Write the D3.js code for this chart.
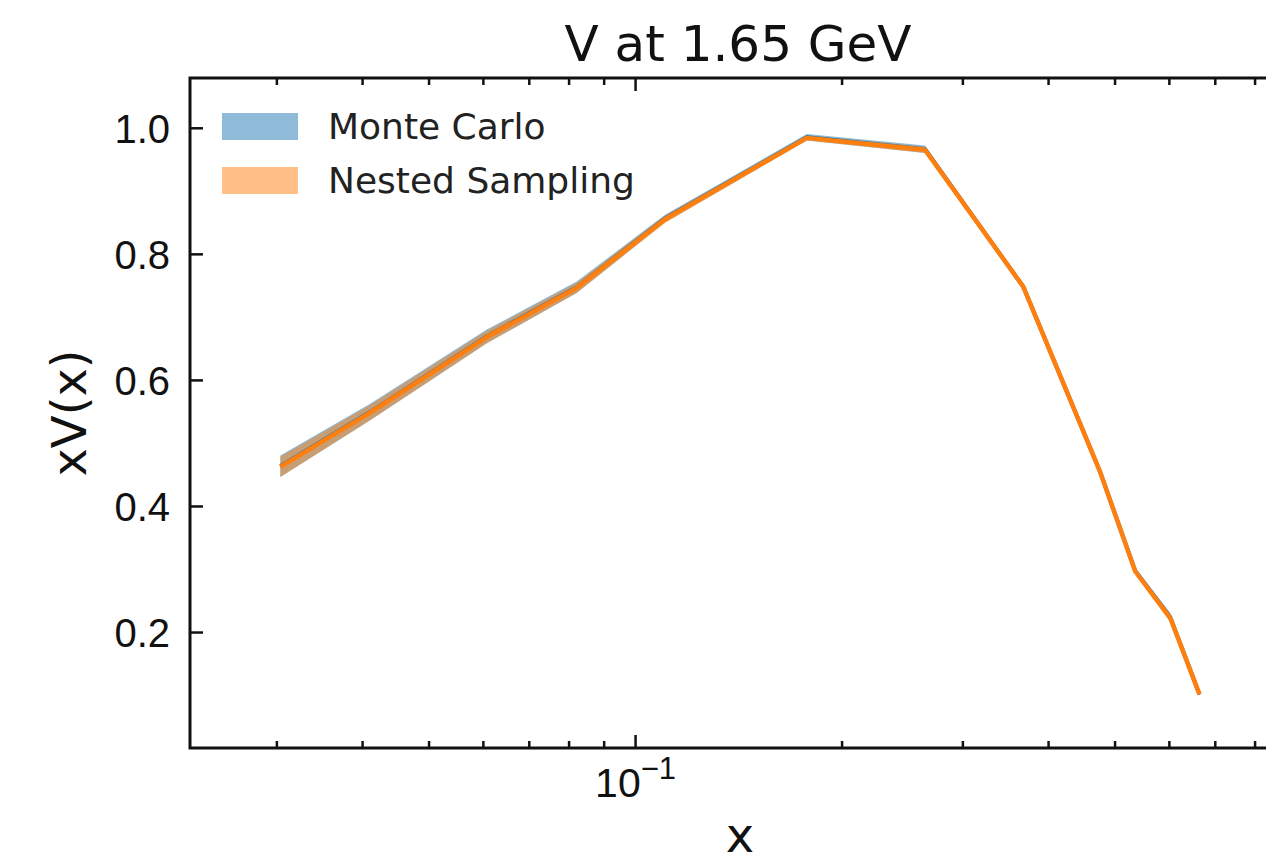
<!DOCTYPE html>
<html>
<head>
<meta charset="utf-8">
<script src="https://cdn.jsdelivr.net/npm/d3@7"></script>
<style>
  html, body { margin: 0; padding: 0; background: #fff; }
  svg { display: block; font-family: "DejaVu Sans", sans-serif; }
</style>
</head>
<body>
<svg id="chart" width="1266" height="862"></svg>
<script>
// ---- data ----
const xValues = [0.0304, 0.0411, 0.0608, 0.0822, 0.1106, 0.178, 0.2647, 0.368, 0.476, 0.536, 0.603, 0.665];
const mcMean  = [0.463, 0.549, 0.669, 0.747, 0.856, 0.985, 0.966, 0.748, 0.455, 0.297, 0.223, 0.101];
const mcErr   = [0.017, 0.013, 0.011, 0.009, 0.006, 0.005, 0.006, 0.002, 0.003, 0.005, 0.007, 0.002];
const nsMean  = [0.462, 0.548, 0.668, 0.746, 0.855, 0.984, 0.965, 0.748, 0.455, 0.296, 0.222, 0.101];
const nsErr   = [0.016, 0.012, 0.010, 0.008, 0.006, 0.004, 0.005, 0.002, 0.003, 0.004, 0.006, 0.002];
const seriesNames = ["Monte Carlo", "Nested Sampling"];
const yTicks = [0.2, 0.4, 0.6, 0.8, 1.0];
const xMajorTicks = [0.1];
const xMinorTicks = [0.03, 0.04, 0.05, 0.06, 0.07, 0.08, 0.09, 0.2, 0.3, 0.4, 0.5, 0.6, 0.7, 0.8];
const titleText = "V at 1.65 GeV";
const xLabel = "x";
const yLabel = "xV(x)";

// ---- layout ----
const margin = { left: 190, top: 78, right: 1290, bottom: 748 };
const svg = d3.select("#chart");

const x = d3.scaleLog().domain([0.02245, 0.901]).range([margin.left, margin.right]);
const y = d3.scaleLinear().domain([0.016, 1.079]).range([margin.bottom, margin.top]);

const C0 = "#1f77b4", C1 = "#ff7f0e";

const rows = xValues.map((xv, i) => ({
  x: xv, mc: mcMean[i], mcE: mcErr[i], ns: nsMean[i], nsE: nsErr[i]
}));

const plot = svg.append("g");

// bands
const areaMC = d3.area().x(d => x(d.x)).y0(d => y(d.mc - d.mcE)).y1(d => y(d.mc + d.mcE));
const areaNS = d3.area().x(d => x(d.x)).y0(d => y(d.ns - d.nsE)).y1(d => y(d.ns + d.nsE));
plot.append("path").datum(rows).attr("d", areaMC).attr("fill", C0).attr("fill-opacity", 0.5);
plot.append("path").datum(rows).attr("d", areaNS).attr("fill", C1).attr("fill-opacity", 0.5);

// lines
const lineMC = d3.line().x(d => x(d.x)).y(d => y(d.mc));
const lineNS = d3.line().x(d => x(d.x)).y(d => y(d.ns));
plot.append("path").datum(rows).attr("d", lineMC).attr("fill", "none")
  .attr("stroke", C0).attr("stroke-width", 4).attr("stroke-linejoin", "round");
plot.append("path").datum(rows).attr("d", lineNS).attr("fill", "none")
  .attr("stroke", C1).attr("stroke-width", 4.5).attr("stroke-linejoin", "round");

// ---- axes ----
const axisColor = "#111";
const majorLen = 13, minorLen = 7;

function styleAxis(g) {
  g.select(".domain").remove();
  g.selectAll(".tick line").attr("stroke", axisColor).attr("stroke-width", 2.5);
  g.selectAll("text").attr("fill", axisColor);
}

// bottom major
const gxB = svg.append("g").attr("transform", `translate(0,${margin.bottom})`)
  .call(d3.axisBottom(x).tickValues(xMajorTicks).tickSizeInner(-majorLen).tickSizeOuter(0)
        .tickPadding(20).tickFormat(() => ""));
styleAxis(gxB);
gxB.selectAll(".tick text").each(function() {
  const t = d3.select(this);
  t.attr("font-size", 41).attr("dy", "0.71em").attr("dx", 0);
  t.append("tspan").text("10");
  t.append("tspan").text("\u22121").attr("font-size", 31).attr("dy", "-0.6em");
});
// bottom minor
const gxBm = svg.append("g").attr("transform", `translate(0,${margin.bottom})`)
  .call(d3.axisBottom(x).tickValues(xMinorTicks).tickSizeInner(-minorLen).tickSizeOuter(0).tickFormat(() => ""));
styleAxis(gxBm);
// top major/minor
const gxT = svg.append("g").attr("transform", `translate(0,${margin.top})`)
  .call(d3.axisTop(x).tickValues(xMajorTicks).tickSizeInner(-majorLen).tickSizeOuter(0).tickFormat(() => ""));
styleAxis(gxT);
const gxTm = svg.append("g").attr("transform", `translate(0,${margin.top})`)
  .call(d3.axisTop(x).tickValues(xMinorTicks).tickSizeInner(-minorLen).tickSizeOuter(0).tickFormat(() => ""));
styleAxis(gxTm);

// left
const gyL = svg.append("g").attr("transform", `translate(${margin.left},0)`)
  .call(d3.axisLeft(y).tickValues(yTicks).tickSizeInner(-majorLen).tickSizeOuter(0)
        .tickPadding(18).tickFormat(d3.format(".1f")));
styleAxis(gyL);
gyL.selectAll(".tick text").attr("font-size", 40).attr("x", -20).attr("dy", "0.36em");

// spines
svg.append("rect")
  .attr("x", margin.left).attr("y", margin.top)
  .attr("width", margin.right - margin.left).attr("height", margin.bottom - margin.top)
  .attr("fill", "none").attr("stroke", axisColor).attr("stroke-width", 3);

// ---- legend ----
const legend = svg.append("g");
const legColors = [C0, C1];
seriesNames.forEach((name, i) => {
  const ly = 113 + i * 54;
  legend.append("rect").attr("x", 222).attr("y", ly).attr("width", 76).attr("height", 27)
    .attr("fill", legColors[i]).attr("fill-opacity", 0.5);
  legend.append("text").attr("x", 328).attr("y", ly + 13.5).attr("dy", "0.36em")
    .attr("font-size", 36).attr("fill", "#222").text(name);
});

// ---- titles ----
const cx = (margin.left + margin.right) / 2;
svg.append("text").attr("x", cx - 2).attr("y", 61).attr("text-anchor", "middle")
  .attr("font-size", 50).attr("fill", axisColor).text(titleText);
svg.append("text").attr("x", cx).attr("y", 852).attr("text-anchor", "middle")
  .attr("font-size", 48).attr("fill", axisColor).text(xLabel);
svg.append("text").attr("transform", `translate(86,${(margin.top + margin.bottom) / 2}) rotate(-90)`)
  .attr("text-anchor", "middle").attr("font-size", 48).attr("fill", axisColor).text(yLabel);
</script>
</body>
</html>
